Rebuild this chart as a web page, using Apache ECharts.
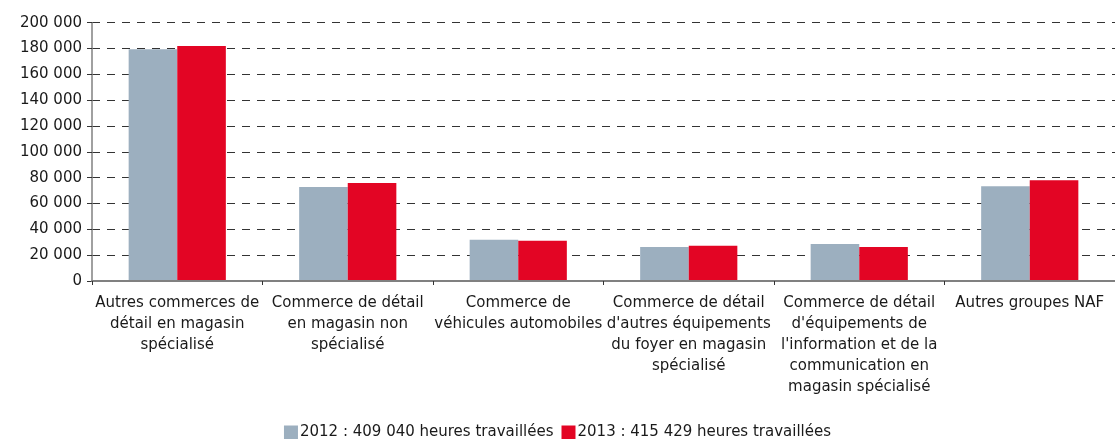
<!DOCTYPE html>
<html>
<head>
<meta charset="utf-8">
<script src="https://cdn.jsdelivr.net/npm/echarts@6/dist/echarts.min.js"></script>
<style>
  html, body { margin: 0; padding: 0; background: #fff; }
  #chart { width: 1115px; height: 439px; }
</style>
</head>
<body>
<div id="chart"></div>
<script>
// catégories (groupes NAF)
var categories = [
  "Autres commerces de\ndétail en magasin\nspécialisé",
  "Commerce de détail\nen magasin non\nspécialisé",
  "Commerce de\nvéhicules automobiles",
  "Commerce de détail\nd'autres équipements\ndu foyer en magasin\nspécialisé",
  "Commerce de détail\nd'équipements de\nl'information et de la\ncommunication en\nmagasin spécialisé",
  "Autres groupes NAF"
];
var seriesNames = [
  "2012 : 409 040 heures travaillées",
  "2013 : 415 429 heures travaillées"
];
var values2012 = [179500, 72700, 31900, 26400, 28700, 73300];
var values2013 = [181900, 75800, 31100, 27200, 26400, 78100];

var FONT = "DejaVu Sans";

function fmt(v) {
  // séparateur de milliers : espace
  return String(v).replace(/\B(?=(\d{3})+(?!\d))/g, " ");
}

var myChart = echarts.init(document.getElementById("chart"));

var option = {
  animation: false,
  textStyle: { fontFamily: FONT, color: "#1a1a1a" },
  legend: {
    top: 420,
    left: "center",
    padding: 5,
    itemWidth: 14,
    itemHeight: 14,
    itemGap: 8,
    icon: "rect",
    textStyle: { fontFamily: FONT, fontSize: 15, color: "#1a1a1a", padding: [0, 0, 0, -3] },
    data: seriesNames
  },
  grid: {
    left: 92,
    top: 22.7,
    bottom: 158,
    width: 1031
  },
  xAxis: {
    type: "category",
    data: categories,
    z: 10,
    axisLine: { lineStyle: { color: "#808080", width: 2 } },
    axisTick: { show: true, length: 4, interval: 0, lineStyle: { color: "#333" } },
    axisLabel: {
      interval: 0,
      margin: 12,
      fontFamily: FONT,
      fontSize: 15,
      lineHeight: 21,
      color: "#1a1a1a",
      align: "center"
    }
  },
  yAxis: {
    type: "value",
    min: 0,
    max: 200000,
    interval: 20000,
    axisLine: { show: true, lineStyle: { color: "#808080", width: 1.5 } },
    axisTick: { show: true, length: 5, lineStyle: { color: "#333" } },
    axisLabel: {
      margin: 10,
      fontFamily: FONT,
      fontSize: 15,
      color: "#1a1a1a",
      formatter: fmt
    },
    splitLine: {
      show: true,
      showMinLine: false,
      lineStyle: { color: "#333", width: 1, type: [8, 7] }
    }
  },
  series: [
    {
      name: seriesNames[0],
      type: "bar",
      data: values2012,
      barGap: "0%",
      barCategoryGap: "43%",
      itemStyle: { color: "#9cafbf" }
    },
    {
      name: seriesNames[1],
      type: "bar",
      data: values2013,
      barGap: "0%",
      barCategoryGap: "43%",
      itemStyle: { color: "#e30524" }
    }
  ]
};

myChart.setOption(option);
</script>
</body>
</html>
